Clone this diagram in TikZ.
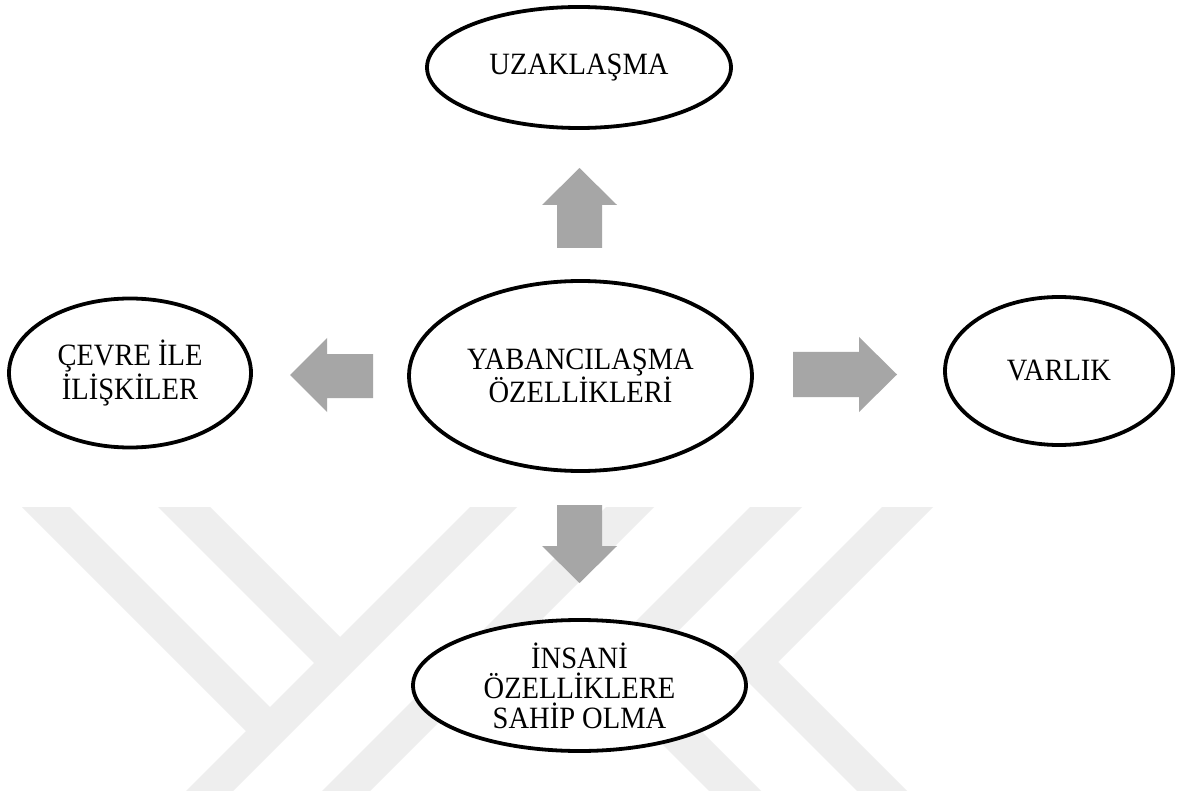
\documentclass[tikz,border=0pt]{standalone}
\usepackage{fontspec}
\setmainfont{Liberation Serif}[FakeStretch=0.92]
\usetikzlibrary{shapes.geometric}
\definecolor{wmgray}{RGB}{238,238,238}
\definecolor{arrowgray}{RGB}{166,166,166}
\tikzset{
  bubble/.style={ellipse, draw=black, line width=3.8pt, fill=white, inner sep=0pt,
    align=center, font=\fontsize{31}{30}\selectfont},
  blockarrow/.style={fill=arrowgray},
  wmark/.style={fill=wmgray},
}
\begin{document}
\begin{tikzpicture}[x=1pt,y=-1pt]
\useasboundingbox[fill=white] (0,0) rectangle (1180,791);
% faint watermark
\begin{scope}
\clip (0,507) rectangle (1180,791);
\fill[wmark] (22,507) -- (70,507) -- (281.75,718.75) -- (257.75,742.75) -- cycle;
\fill[wmark] (158,507) -- (210,507) -- (351.75,648.75) -- (325.75,674.75) -- cycle;
\fill[wmark] (470,507) -- (517,507) -- (233,791) -- (186,791) -- cycle;
\fill[wmark] (606,507) -- (654,507) -- (370,791) -- (322,791) -- cycle;
\fill[wmark] (750,507) -- (802,507) -- (639.5,669.5) -- (761,791) -- (709,791) -- (587.5,669.5) -- cycle;
\fill[wmark] (882,507) -- (933,507) -- (778,662) -- (907,791) -- (857,791) -- (727.5,661.5) -- cycle;
\end{scope}
% nodes
\node[bubble, minimum width=304pt, minimum height=121pt] (uz) at (579,67.5) {UZAKLAŞMA};
\node[bubble, minimum width=343pt, minimum height=190pt] (yab) at (580.5,376) {YABANCILAŞMA\\ÖZELLİKLERİ};
\node[bubble, minimum width=242pt, minimum height=149pt] (cev) at (130,373) {ÇEVRE İLE\\İLİŞKİLER};
\node[bubble, minimum width=228pt, minimum height=148pt] (var) at (1059,371) {VARLIK};
\node[bubble, minimum width=333pt, minimum height=131pt] (ins) at (579.5,685.5) {İNSANİ\\ÖZELLİKLERE\\SAHİP OLMA};
% block arrows
\fill[blockarrow] (557,248) -- (557,205) -- (542,205) -- (579.5,168) -- (617,205) -- (602,205) -- (602,248) -- cycle;
\fill[blockarrow] (557,505) -- (602,505) -- (602,546) -- (617,546) -- (579.5,583) -- (542,546) -- (557,546) -- cycle;
\fill[blockarrow] (373,354) -- (327,354) -- (327,338) -- (290,375) -- (327,412) -- (327,398) -- (373,398) -- cycle;
\fill[blockarrow] (793,352) -- (859,352) -- (859,337) -- (897,374.5) -- (859,412) -- (859,397) -- (793,397) -- cycle;
\end{tikzpicture}
\end{document}
